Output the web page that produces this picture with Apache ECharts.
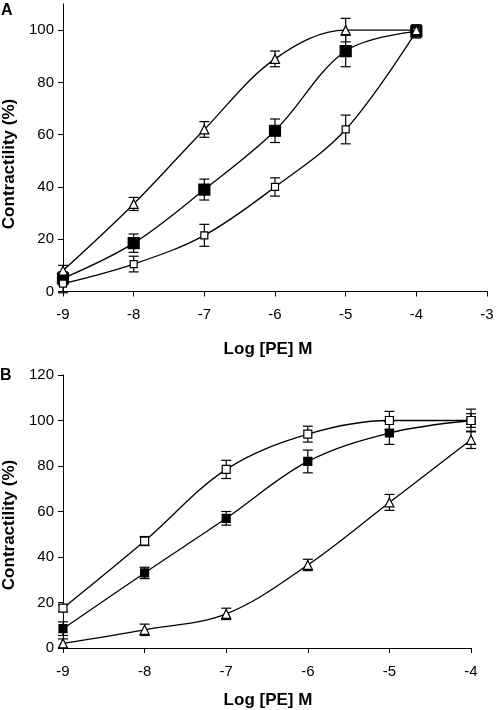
<!DOCTYPE html>
<html><head><meta charset="utf-8">
<script src="https://cdn.jsdelivr.net/npm/echarts@6/dist/echarts.min.js"></script>
<style>html,body{margin:0;padding:0;background:#fff}#c{width:496px;height:710px}</style>
</head><body><div id="c"></div>
<script>
// Shared x values: Log [PE] M
const logPE = [-9, -8, -7, -6, -5, -4];

// Panel A
const aYTicks = [0, 20, 40, 60, 80, 100];
const aTriangle = [8, 33.5, 62, 89, 100, 100];
const aTriangleErr = [2, 2.5, 3, 3, 4.5, 2];
const aFilled = [5, 18.5, 39, 61.5, 92, 99.5];
const aFilledErr = [2.5, 3.5, 4, 4.5, 6, 2.5];
const aOpen = [3, 10.5, 21.5, 40, 62, 99.5];
const aOpenErr = [3.5, 3, 4.2, 3.5, 5.5, 2];

// Panel B
const bYTicks = [0, 20, 40, 60, 80, 100, 120];
const bOpen = [17.5, 47, 78.5, 94, 100, 100];
const bOpenErr = [1.5, 2, 4, 3.5, 4, 5];
const bFilled = [8.5, 33, 57, 82, 94.5, 100];
const bFilledErr = [3, 2.5, 3, 5, 5, 3];
const bTriangle = [2, 8, 15, 36.5, 64, 91.5];
const bTriangleErr = [2, 2.5, 2.5, 2.5, 3.5, 3.8];

const FONT = '"Liberation Sans", Arial, sans-serif';
const INK = '#000';

function pts(vals) { return logPE.map((x, i) => [x, vals[i]]); }
function errPts(vals, errs) { return logPE.map((x, i) => [x, vals[i], errs[i]]); }

function errItem(params, api) {
  const x = api.value(0), y = api.value(1), e = api.value(2);
  const t = api.coord([x, y + e]), b = api.coord([x, y - e]);
  const w = 5;
  const st = { stroke: INK, lineWidth: 1.2 };
  return { type: 'group', children: [
    { type: 'line', shape: { x1: t[0], y1: t[1], x2: b[0], y2: b[1] }, style: st },
    { type: 'line', shape: { x1: t[0] - w, y1: t[1], x2: t[0] + w, y2: t[1] }, style: st },
    { type: 'line', shape: { x1: b[0] - w, y1: b[1], x2: b[0] + w, y2: b[1] }, style: st }
  ]};
}

function lineS(idx, vals) {
  return { type: 'line', xAxisIndex: idx, yAxisIndex: idx, data: pts(vals), smooth: 0.35,
    showSymbol: false, symbol: 'none', lineStyle: { color: INK, width: 1.3 }, z: 1, silent: true, animation: false };
}
function errS(idx, vals, errs) {
  return { type: 'custom', xAxisIndex: idx, yAxisIndex: idx, data: errPts(vals, errs),
    encode: { x: 0, y: 1 }, renderItem: errItem, z: 2, silent: true, animation: false };
}
function markS(idx, vals, symbol, size, fill, z) {
  return { type: 'scatter', xAxisIndex: idx, yAxisIndex: idx, data: pts(vals), symbol: symbol,
    symbolSize: size, itemStyle: { color: fill, borderColor: INK, borderWidth: 1.2, opacity: 1 },
    z: z, silent: true, animation: false };
}

function xAx(idx, min, max) {
  return { type: 'value', gridIndex: idx, min: min, max: max, interval: 1,
    axisLine: { show: true, onZero: false, lineStyle: { color: INK, width: 1 } },
    axisTick: { show: true, inside: false, length: 5, lineStyle: { color: INK } },
    axisLabel: { color: INK, fontSize: 15, fontFamily: FONT, margin: 16 },
    splitLine: { show: false } };
}
function yAx(idx, max, ticks) {
  return { type: 'value', gridIndex: idx, min: 0, max: max,
    axisLine: { show: true, onZero: false, lineStyle: { color: INK, width: 1 } },
    axisTick: { show: true, inside: false, length: 5, lineStyle: { color: INK }, customValues: ticks },
    axisLabel: { color: INK, fontSize: 15, fontFamily: FONT, margin: 9, customValues: ticks },
    splitLine: { show: false } };
}

const chart = echarts.init(document.getElementById('c'), null, { renderer: 'canvas' });
chart.setOption({
  backgroundColor: '#fff',
  animation: false,
  grid: [
    { left: 63, right: 9, top: 4, bottom: 418.5, outerBoundsMode: 'none', containLabel: false },
    { left: 63, right: 25, top: 375, bottom: 62, outerBoundsMode: 'none', containLabel: false }
  ],
  xAxis: [xAx(0, -9, -3), xAx(1, -9, -4)],
  yAxis: [yAx(0, 110, aYTicks), yAx(1, 120, bYTicks)],
  series: [
    lineS(0, aTriangle), lineS(0, aFilled), lineS(0, aOpen),
    errS(0, aTriangle, aTriangleErr), errS(0, aFilled, aFilledErr), errS(0, aOpen, aOpenErr),
    markS(0, aFilled, 'rect', 11, INK, 3),
    markS(0, aOpen, 'rect', 7, '#fff', 4),
    markS(0, aTriangle, 'triangle', [9, 9], '#fff', 5),

    lineS(1, bTriangle), lineS(1, bFilled), lineS(1, bOpen),
    errS(1, bTriangle, bTriangleErr), errS(1, bFilled, bFilledErr), errS(1, bOpen, bOpenErr),
    markS(1, bTriangle, 'triangle', [9, 9], '#fff', 3),
    markS(1, bFilled, 'rect', 8, INK, 4),
    markS(1, bOpen, 'rect', 8, '#fff', 5)
  ],
  graphic: [
    { type: 'text', left: 1, top: 3, style: { text: 'A', font: 'bold 16px ' + FONT, fill: INK } },
    { type: 'text', left: 0, top: 368, style: { text: 'B', font: 'bold 16px ' + FONT, fill: INK } },
    { type: 'text', x: 268, y: 349, style: { text: 'Log [PE] M', font: 'bold 17px ' + FONT, fill: INK, align: 'center', verticalAlign: 'middle' } },
    { type: 'text', x: 268, y: 700, style: { text: 'Log [PE] M', font: 'bold 17px ' + FONT, fill: INK, align: 'center', verticalAlign: 'middle' } },
    { type: 'text', x: 9, y: 164, rotation: Math.PI / 2, style: { text: 'Contractility (%)', font: 'bold 17px ' + FONT, fill: INK, align: 'center', verticalAlign: 'middle' } },
    { type: 'text', x: 9, y: 525, rotation: Math.PI / 2, style: { text: 'Contractility (%)', font: 'bold 17px ' + FONT, fill: INK, align: 'center', verticalAlign: 'middle' } }
  ]
});
</script></body></html>
